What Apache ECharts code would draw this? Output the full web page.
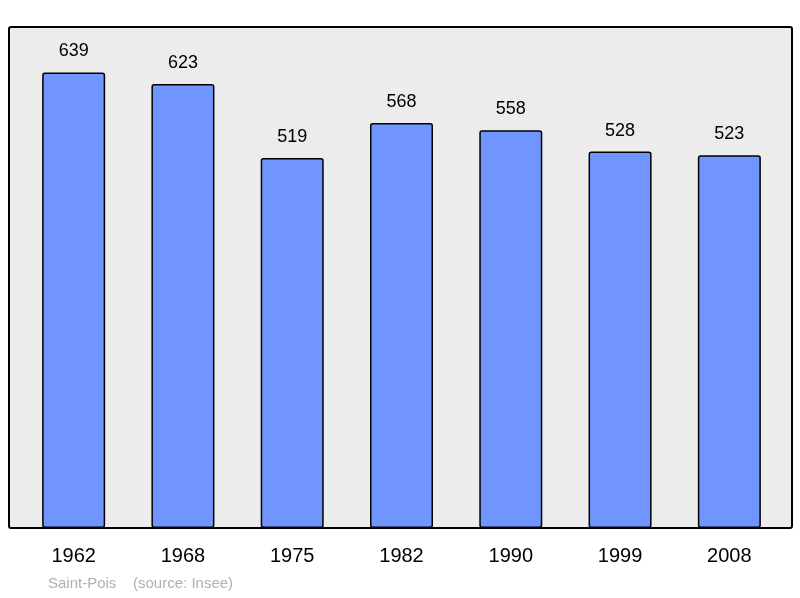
<!doctype html>
<html>
<head>
<meta charset="UTF-8">
<script src="https://cdn.jsdelivr.net/npm/echarts@6/dist/echarts.min.js"></script>
</head>
<body style="margin:0">
<div id="main" style="width:800px;height:598px;"></div>
<script>
var years = ['1962', '1968', '1975', '1982', '1990', '1999', '2008'];
var population = [639, 623, 519, 568, 558, 528, 523];

var chart = echarts.init(document.getElementById('main'));
chart.setOption({
    animation: false,
    backgroundColor: '#fff',
    graphic: [
        {type: 'rect', z: -10, shape: {x: 9, y: 27, width: 783, height: 501, r: 2},
         style: {fill: '#ececec', stroke: '#000', lineWidth: 2}},
        {type: 'text', left: 48, top: 576,
         style: {text: 'Saint-Pois    (source: Insee)', fill: '#b0b0b0', font: '15px "Liberation Sans", Arial'}}
    ],
    grid: {left: 19, right: 16, top: 29, bottom: 70},
    xAxis: {
        type: 'category',
        data: years,
        axisLine: {show: false},
        axisTick: {show: false},
        axisLabel: {color: '#000', fontSize: 20, margin: 18, fontFamily: 'Liberation Sans'}
    },
    yAxis: {type: 'value', min: 0, max: 700, show: false, splitLine: {show: false}},
    series: [{
        type: 'bar',
        data: population,
        barWidth: 63,
        itemStyle: {color: '#7095ff', borderColor: '#000', borderWidth: 1.5, borderRadius: 2},
        label: {show: true, position: 'top', distance: 12, color: '#000', fontSize: 18, fontFamily: 'Liberation Sans'}
    }]
});
</script>
</body>
</html>
